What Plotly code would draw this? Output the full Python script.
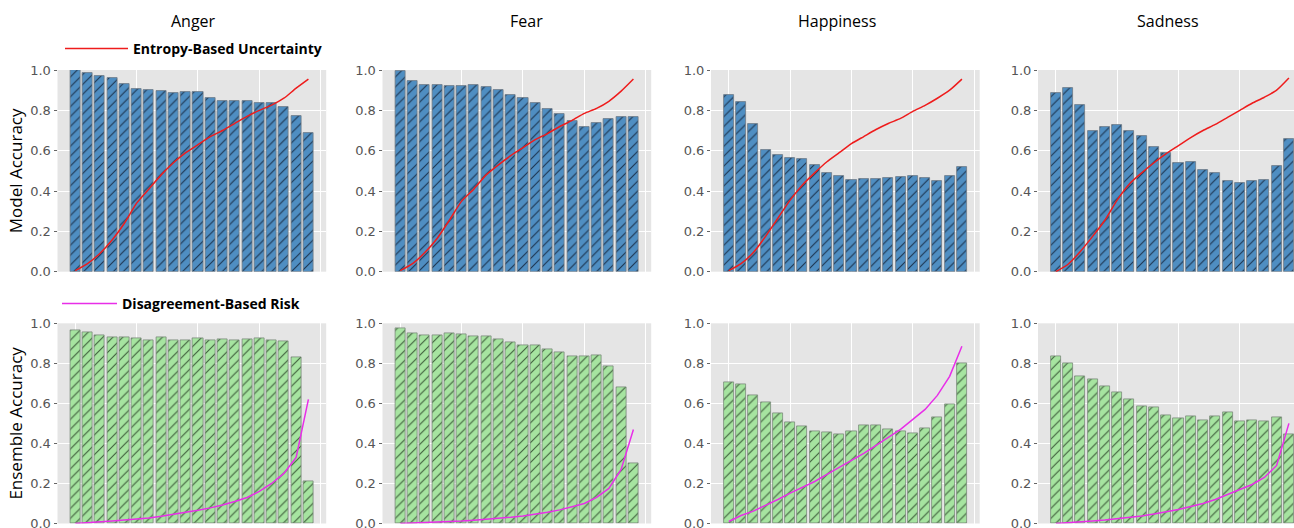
import plotly.graph_objects as go

# ---------------- data ----------------
emotions = ["Anger", "Fear", "Happiness", "Sadness"]
bins = list(range(20))
grid_ticks = [0, 5, 10, 15, 20]
y_ticks = [0.0, 0.2, 0.4, 0.6, 0.8, 1.0]

model_acc_anger = [1.0, 0.983, 0.97, 0.96, 0.93, 0.904, 0.902, 0.896, 0.884, 0.893,
                   0.889, 0.861, 0.848, 0.848, 0.848, 0.838, 0.838, 0.815, 0.772, 0.686]
model_acc_fear = [0.995, 0.945, 0.925, 0.928, 0.92, 0.92, 0.928, 0.917, 0.90, 0.878,
                  0.862, 0.834, 0.809, 0.781, 0.748, 0.718, 0.738, 0.755, 0.768, 0.768]
model_acc_happiness = [0.877, 0.842, 0.73, 0.605, 0.58, 0.563, 0.558, 0.53, 0.488, 0.475,
                       0.453, 0.46, 0.46, 0.467, 0.468, 0.475, 0.463, 0.452, 0.475, 0.517]
model_acc_sadness = [0.887, 0.91, 0.826, 0.698, 0.715, 0.725, 0.697, 0.672, 0.62, 0.59,
                     0.537, 0.542, 0.502, 0.488, 0.452, 0.44, 0.452, 0.455, 0.523, 0.66]

entropy_anger = [0.005, 0.04, 0.09, 0.157, 0.24, 0.34, 0.41, 0.48, 0.54, 0.59,
                 0.63, 0.67, 0.70, 0.735, 0.77, 0.80, 0.826, 0.86, 0.91, 0.955]
entropy_fear = [0.005, 0.04, 0.095, 0.165, 0.255, 0.35, 0.41, 0.48, 0.53, 0.575,
                0.615, 0.655, 0.685, 0.72, 0.75, 0.785, 0.81, 0.845, 0.895, 0.955]
entropy_happiness = [0.005, 0.04, 0.095, 0.175, 0.265, 0.355, 0.43, 0.49, 0.545, 0.59,
                     0.635, 0.67, 0.705, 0.735, 0.76, 0.795, 0.825, 0.86, 0.90, 0.955]
entropy_sadness = [0.0, 0.037, 0.10, 0.175, 0.255, 0.355, 0.435, 0.49, 0.54, 0.585,
                   0.625, 0.665, 0.70, 0.73, 0.765, 0.80, 0.835, 0.865, 0.90, 0.96]

ens_acc_anger = [0.967, 0.955, 0.938, 0.932, 0.932, 0.925, 0.913, 0.93, 0.913, 0.917,
                 0.925, 0.917, 0.918, 0.913, 0.92, 0.925, 0.917, 0.908, 0.828, 0.21]
ens_acc_fear = [0.973, 0.95, 0.938, 0.94, 0.948, 0.945, 0.937, 0.937, 0.922, 0.907,
                0.892, 0.892, 0.87, 0.857, 0.837, 0.837, 0.838, 0.785, 0.68, 0.30]
ens_acc_happiness = [0.703, 0.695, 0.638, 0.607, 0.55, 0.508, 0.485, 0.462, 0.458, 0.448,
                     0.462, 0.492, 0.49, 0.47, 0.462, 0.45, 0.478, 0.53, 0.593, 0.802]
ens_acc_sadness = [0.835, 0.80, 0.733, 0.72, 0.685, 0.655, 0.62, 0.585, 0.582, 0.54,
                   0.527, 0.535, 0.515, 0.535, 0.553, 0.51, 0.515, 0.51, 0.532, 0.445]

risk_anger = [0.0, 0.003, 0.007, 0.012, 0.017, 0.022, 0.028, 0.036, 0.045, 0.055,
              0.066, 0.078, 0.092, 0.11, 0.13, 0.16, 0.20, 0.25, 0.33, 0.62]
risk_fear = [0.0, 0.002, 0.004, 0.006, 0.009, 0.012, 0.016, 0.02, 0.025, 0.031,
             0.038, 0.046, 0.056, 0.068, 0.083, 0.10, 0.13, 0.175, 0.27, 0.47]
risk_happiness = [0.01, 0.04, 0.062, 0.09, 0.12, 0.152, 0.18, 0.21, 0.245, 0.28,
                  0.315, 0.35, 0.39, 0.43, 0.47, 0.52, 0.57, 0.64, 0.735, 0.885]
risk_sadness = [0.0, 0.003, 0.007, 0.012, 0.017, 0.023, 0.03, 0.038, 0.048, 0.058,
                0.07, 0.085, 0.10, 0.12, 0.145, 0.17, 0.195, 0.23, 0.29, 0.50]

model_acc = [model_acc_anger, model_acc_fear, model_acc_happiness, model_acc_sadness]
entropy = [entropy_anger, entropy_fear, entropy_happiness, entropy_sadness]
ens_acc = [ens_acc_anger, ens_acc_fear, ens_acc_happiness, ens_acc_sadness]
risk = [risk_anger, risk_fear, risk_happiness, risk_sadness]

# ---------------- layout geometry (pixels) ----------------
W, H = 1294, 528
panel_left = [57.5, 382.5, 711, 1038]
panel_w = 268.7
row_px = [(70, 271.7), (323.3, 523.5)]
x_full = (-1.45, 20.45)

fig = go.Figure()

BLUE = "#4f8ec2"
GREEN = "#a6e4a0"
RED = "#ee1c1c"
MAGENTA = "#e82ee8"

for r in range(2):
    for i in range(4):
        k = r * 4 + i + 1
        xa = "x" if k == 1 else f"x{k}"
        ya = "y" if k == 1 else f"y{k}"
        if r == 0:
            fig.add_trace(go.Bar(
                x=bins, y=model_acc[i], width=0.82, xaxis=xa, yaxis=ya,
                marker=dict(color=BLUE, line=dict(color="#6e7a84", width=0.8),
                            pattern=dict(shape="/", fgcolor="#1d3550", bgcolor=BLUE,
                                         size=7, solidity=0.16, fillmode="replace")),
                showlegend=False, name="Model Accuracy"))
            fig.add_trace(go.Scatter(
                x=bins, y=entropy[i], mode="lines", xaxis=xa, yaxis=ya,
                line=dict(color=RED, width=1.5, shape="spline", smoothing=0.6),
                name="Entropy-Based Uncertainty", showlegend=(i == 0), legend="legend"))
        else:
            fig.add_trace(go.Bar(
                x=bins, y=ens_acc[i], width=0.82, xaxis=xa, yaxis=ya,
                marker=dict(color=GREEN, line=dict(color="#7a8a7a", width=0.8),
                            pattern=dict(shape="/", fgcolor="#3f5e3c", bgcolor=GREEN,
                                         size=7, solidity=0.16, fillmode="replace")),
                showlegend=False, name="Ensemble Accuracy"))
            fig.add_trace(go.Scatter(
                x=bins, y=risk[i], mode="lines", xaxis=xa, yaxis=ya,
                line=dict(color=MAGENTA, width=1.5),
                name="Disagreement-Based Risk", showlegend=(i == 0), legend="legend2"))

        x0 = panel_left[i] / W
        x1 = min((panel_left[i] + panel_w) / W, 1.0)
        visible_frac = (x1 * W - panel_left[i]) / panel_w
        xr = [x_full[0], x_full[0] + (x_full[1] - x_full[0]) * visible_frac]
        top, bot = row_px[r]
        y0 = 1 - bot / H
        y1 = 1 - top / H

        xkey = "xaxis" if k == 1 else f"xaxis{k}"
        ykey = "yaxis" if k == 1 else f"yaxis{k}"
        fig.layout[xkey] = dict(
            domain=[x0, x1], range=xr, anchor=ya, tickvals=grid_ticks,
            showticklabels=False, ticks="", showgrid=True, gridcolor="white",
            gridwidth=1, zeroline=False, showline=False, fixedrange=True,
            automargin=False)
        ytitle = None
        if i == 0:
            ytitle = dict(text="Model Accuracy" if r == 0 else "Ensemble Accuracy",
                          font=dict(family="Open Sans", size=17, color="black"),
                          standoff=3)
        fig.layout[ykey] = dict(
            domain=[y0, y1], range=[0, 1.0], anchor=xa, tickvals=y_ticks,
            tickformat=".1f", ticks="outside", ticklen=3, tickcolor="#666",
            tickfont=dict(family="DejaVu Sans", size=13, color="#555"),
            ticklabeloverflow="allow",
            showgrid=True, gridcolor="white", gridwidth=1, zeroline=False,
            showline=False, title=ytitle, fixedrange=True, automargin=False)

# panel titles
title_x = [193.7, 526.7, 836.7, 1168]
for i, name in enumerate(emotions):
    fig.add_annotation(text=name, x=title_x[i] / W, y=1 - 21 / H, xref="paper", yref="paper",
                       showarrow=False, xanchor="center", yanchor="middle",
                       font=dict(family="Open Sans", size=16, color="black"))

fig.update_layout(
    width=W, height=H, margin=dict(l=0, r=0, t=0, b=0, autoexpand=False),
    paper_bgcolor="white", plot_bgcolor="#e5e5e5",
    barmode="overlay", bargap=0,
    legend=dict(x=60 / W, y=1 - 49 / H, xanchor="left", yanchor="middle",
                bgcolor="rgba(0,0,0,0)", itemwidth=63,
                font=dict(family="Open Sans", size=14, color="black", weight="bold")),
    legend2=dict(x=57 / W, y=1 - 304 / H, xanchor="left", yanchor="middle",
                 bgcolor="rgba(0,0,0,0)", itemwidth=55,
                 font=dict(family="Open Sans", size=14, color="black", weight="bold")),
)

fig.write_html(
    "out.html",
    config={"displayModeBar": False},
    post_script="document.body.style.margin='0';document.body.style.overflow='hidden';",
)
